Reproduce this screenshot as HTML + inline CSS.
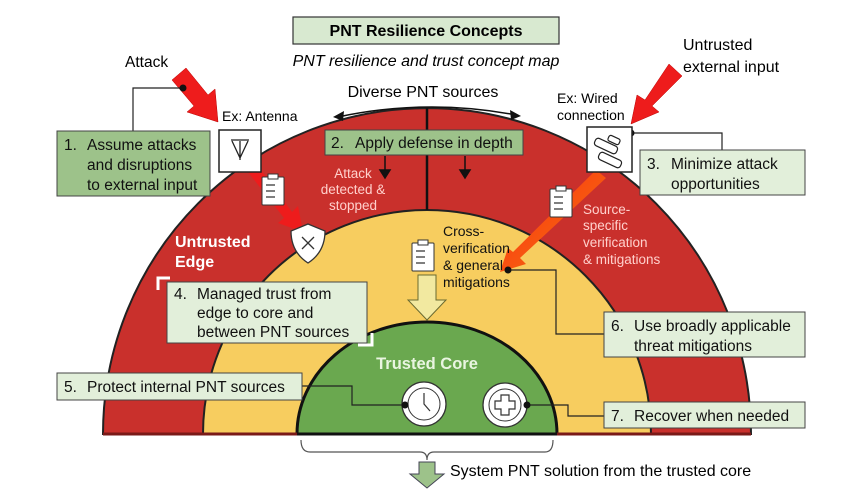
<!DOCTYPE html>
<html><head><meta charset="utf-8"><style>
html,body{margin:0;padding:0;background:#fff}
svg{display:block;font-family:"Liberation Sans",sans-serif}
</style></head><body>
<svg width="862" height="496" viewBox="0 0 862 496" xmlns="http://www.w3.org/2000/svg">
<defs>
<linearGradient id="og" x1="0" y1="0" x2="1" y2="1"><stop offset="0" stop-color="#ff2a10"/><stop offset="1" stop-color="#f07a10"/></linearGradient>
</defs>
<path d="M103 434 A324 326 0 0 1 751 434 Z" fill="#c9302c" stroke="#222" stroke-width="2"/>
<path d="M203 434 A224 224 0 0 1 651 434 Z" fill="#f7cd5f" stroke="#222" stroke-width="2"/>
<path d="M297 434 A130 112 0 0 1 557 434 Z" fill="#6aa84f" stroke="#111" stroke-width="3"/>
<line x1="103" y1="434" x2="751" y2="434" stroke="#7a1a18" stroke-width="3"/>
<line x1="297" y1="434" x2="557" y2="434" stroke="#111" stroke-width="3"/>
<line x1="427" y1="108" x2="427" y2="210" stroke="#111" stroke-width="2.5"/>
<g stroke="#111" stroke-width="1.5" fill="#111">
<line x1="385" y1="156" x2="385" y2="174"/><path d="M380 170 L390 170 L385 178Z"/>
<line x1="465" y1="156" x2="465" y2="174"/><path d="M460 170 L470 170 L465 178Z"/>
</g>
<path d="M338 117 Q427 98 516 115" fill="none" stroke="#111" stroke-width="1.5"/>
<path d="M333 117 L344 111 L343 121Z" fill="#111"/><path d="M521 116 L510 110 L511 120Z" fill="#111"/>
<text x="423" y="97" font-size="16" text-anchor="middle">Diverse PNT sources</text>
<rect x="293" y="17" width="266" height="27" fill="#d8e9d0" stroke="#333" stroke-width="1.2"/>
<text x="426" y="36" font-size="16" font-weight="bold" text-anchor="middle">PNT Resilience Concepts</text>
<text x="426" y="66" font-size="16" font-style="italic" text-anchor="middle">PNT resilience and trust concept map</text>
<text x="125" y="67" font-size="15.5">Attack</text>
<text x="683" y="50" font-size="16">Untrusted</text>
<text x="683" y="72" font-size="16">external input</text>
<text x="222" y="121" font-size="14">Ex: Antenna</text>
<text x="557" y="103" font-size="14">Ex: Wired</text>
<text x="557" y="120" font-size="14">connection</text>
<path d="M172 80 L186 68 L208 95 L215 89 L218 122 L187 112 L194 106 Z" fill="#ee1c1c" stroke="#b00" stroke-width="0.5"/>
<path d="M682 76 L669 64 L645 100 L637 95 L631 124 L659 112 L652 106 Z" fill="#ee1c1c" stroke="#b00" stroke-width="0.5"/>
<path d="M248 172 L258 166 L292 212 L298 206 L303 232 L278 223 L284 218 Z" fill="#ee1c1c"/>
<path d="M596 170 L606 178 L520 258 L526 264 L500 272 L508 248 L513 252 Z" fill="url(#og)"/>
<g fill="none" stroke="#222" stroke-width="1.2">
<polyline points="133,131 133,88 183,88"/>
<polyline points="631,133 722,133 722,150"/>
<polyline points="508,270 556,270 556,334 604,334"/>
<polyline points="302,386 352,386 352,405 405,405"/>
<polyline points="527,405 568,405 568,416 604,416"/>
</g>
<g fill="#111"><circle cx="183" cy="88" r="3.5"/><circle cx="631" cy="133" r="3.5"/><circle cx="508" cy="270" r="3.5"/></g>
<g stroke="#444" stroke-width="1">
<rect x="57" y="131" width="153" height="65" fill="#9dc28a"/>
<rect x="325" y="130" width="198" height="25" fill="#9dc28a"/>
<rect x="640" y="150" width="165" height="45" fill="#e2efda"/>
<rect x="167" y="282" width="200" height="61" fill="#e2efda"/>
<rect x="57" y="373" width="245" height="27" fill="#e2efda"/>
<rect x="604" y="312" width="201" height="45" fill="#e2efda"/>
<rect x="604" y="402" width="201" height="26" fill="#e2efda"/>
</g>
<g font-size="15.5" fill="#111">
<text x="64" y="150">1.</text><text x="87" y="150">Assume attacks</text><text x="87" y="170">and disruptions</text><text x="87" y="190">to external input</text>
<text x="331" y="148">2.</text><text x="355" y="148">Apply defense in depth</text>
<text x="647" y="169">3.</text><text x="671" y="169">Minimize attack</text><text x="671" y="189">opportunities</text>
<text x="174" y="299">4.</text><text x="197" y="299">Managed trust from</text><text x="197" y="318">edge to core and</text><text x="197" y="337">between PNT sources</text>
<text x="64" y="392">5.</text><text x="87" y="392">Protect internal PNT sources</text>
<text x="611" y="331">6.</text><text x="634" y="331">Use broadly applicable</text><text x="634" y="351">threat mitigations</text>
<text x="611" y="421">7.</text><text x="634" y="421">Recover when needed</text>
</g>
<rect x="219" y="130" width="42" height="42" fill="#fff" stroke="#222" stroke-width="1.5"/>
<path d="M231 140 L240 140 L249 140 M232 141 L240 158 L248 141 M240 141 L240 160" fill="none" stroke="#222" stroke-width="1.3"/>
<rect x="587" y="127" width="45" height="45" fill="#fff" stroke="#222" stroke-width="1.5"/>
<g fill="none" stroke="#222" stroke-width="1.2">
<rect x="594" y="142" width="24" height="8" rx="3" transform="rotate(25 606 146)"/>
<rect x="608" y="137" width="12" height="6" rx="2" transform="rotate(25 614 140)"/>
<rect x="598" y="156" width="24" height="8" rx="3" transform="rotate(25 610 160)"/>
</g>
<g fill="#fff" stroke="#333" stroke-width="1">
<rect x="262" y="177" width="22" height="28" rx="1"/><rect x="268" y="174" width="10" height="5"/>
<path d="M266 185h9M266 191h9M266 197h9" stroke-width="1.3"/>
<rect x="550" y="189" width="22" height="28" rx="1"/><rect x="556" y="186" width="10" height="5"/>
<path d="M554 197h9M554 203h9M554 209h9" stroke-width="1.3"/>
<rect x="412" y="243" width="22" height="28" rx="1"/><rect x="418" y="240" width="10" height="5"/>
<path d="M416 251h9M416 257h9M416 263h9" stroke-width="1.3"/>
</g>
<path d="M308 224 L325 231 Q325 252 308 263 Q291 252 291 231 Z" fill="#fff" stroke="#333" stroke-width="1.3"/>
<path d="M302 237 L314 249 M314 237 L302 249" stroke="#333" stroke-width="1.3"/>
<path d="M418 275 L436 275 L436 300 L446 300 L427 320 L408 300 L418 300 Z" fill="#f2e9a0" stroke="#6a6a30" stroke-width="1"/>
<g font-size="13.5" fill="#ffd0cc" text-anchor="middle">
<text x="353" y="178">Attack</text><text x="353" y="194">detected &amp;</text><text x="353" y="210">stopped</text>
</g>
<g font-size="13.5" fill="#ffd0cc">
<text x="583" y="214">Source-</text><text x="583" y="230">specific</text><text x="583" y="247">verification</text><text x="583" y="264">&amp; mitigations</text>
</g>
<g font-size="14" fill="#111">
<text x="443" y="236">Cross-</text><text x="443" y="253">verification</text><text x="443" y="270">&amp; general</text><text x="443" y="287">mitigations</text>
</g>
<g font-size="16" font-weight="bold" fill="#fff">
<text x="175" y="247">Untrusted</text><text x="175" y="267">Edge</text>
<text x="427" y="369" text-anchor="middle" fill="#e9f5e0" font-size="16.5">Trusted Core</text>
</g>
<path d="M158 290 V278 H170" fill="none" stroke="#fff" stroke-width="3"/>
<path d="M358 345 H372 V333" fill="none" stroke="#fff" stroke-width="3"/>
<circle cx="424" cy="404" r="22" fill="#fff" stroke="#333" stroke-width="1.3"/>
<circle cx="424" cy="404" r="16" fill="none" stroke="#333" stroke-width="1"/>
<path d="M424 393 V404 L430 411" fill="none" stroke="#333" stroke-width="1.2"/>
<circle cx="505" cy="405" r="22" fill="#fff" stroke="#333" stroke-width="1.3"/>
<circle cx="505" cy="405" r="16" fill="none" stroke="#333" stroke-width="1"/>
<path d="M501 395 H509 V401 H515 V409 H509 V415 H501 V409 H495 V401 H501 Z" fill="none" stroke="#333" stroke-width="1.2"/>
<circle cx="405" cy="405" r="3.5" fill="#111"/><circle cx="527" cy="405" r="3.5" fill="#111"/>
<path d="M301 440 Q301 452 310 452 L420 452 Q427 452 427 460 Q427 452 434 452 L545 452 Q553 452 553 440" fill="none" stroke="#555" stroke-width="1.2"/>
<path d="M419 462 L435 462 L435 474 L444 474 L427 488 L410 474 L419 474 Z" fill="#9dc28a" stroke="#445" stroke-width="1"/>
<text x="450" y="476" font-size="16">System PNT solution from the trusted core</text>
</svg>
</body></html>
